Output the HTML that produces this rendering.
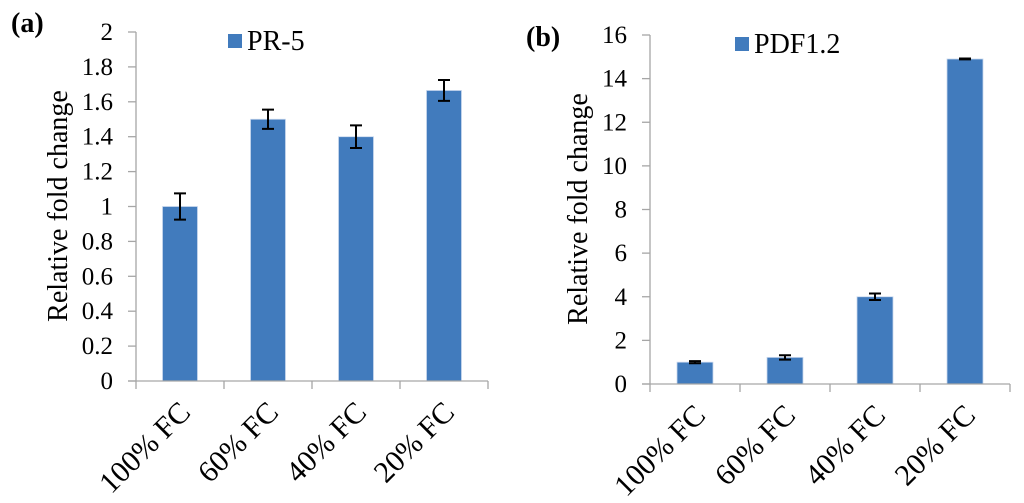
<!DOCTYPE html>
<html><head><meta charset="utf-8"><style>
html,body{margin:0;padding:0;background:#fff;width:1024px;height:503px;overflow:hidden}
svg{display:block;font-family:"Liberation Serif",serif}
</style></head><body>
<svg id="svg" width="1024" height="503" viewBox="0 0 1024 503"></svg>
<script>
const categories = ["100% FC","60% FC","40% FC","20% FC"];
const prValues = [1.0, 1.5, 1.4, 1.665];
const prErrors = [0.075, 0.055, 0.065, 0.06];
const prTicks = [0,0.2,0.4,0.6,0.8,1,1.2,1.4,1.6,1.8,2];
const pdfValues = [1.0, 1.22, 4.0, 14.9];
const pdfErrors = [0.05, 0.1, 0.15, 0.02];
const pdfTicks = [0,2,4,6,8,10,12,14,16];

const NS="http://www.w3.org/2000/svg";
const svg=document.getElementById('svg');
function mk(tag,attrs,parent,text){const e=document.createElementNS(NS,tag);for(const k in attrs)e.setAttribute(k,attrs[k]);if(text!==undefined)e.textContent=text;(parent||svg).appendChild(e);return e;}

function chart(cfg){
  const g=mk('g',{});
  
  
  const ymax=cfg.ticks[cfg.ticks.length-1];
  const y=v=>cfg.y0-(v/ymax)*(cfg.y0-cfg.y1);
  const step=(cfg.x1-cfg.x0)/categories.length;
  const xc=i=>cfg.x0+step*(i+0.5);
  const ya=mk('line',{x1:cfg.x0,y1:cfg.y1,x2:cfg.x0,y2:cfg.y0,stroke:'#a6a6a6','stroke-width':1.3},g);
  
  
  cfg.ticks.forEach(t=>{
    mk('line',{x1:cfg.x0-8,y1:y(t),x2:cfg.x0,y2:y(t),stroke:'#a6a6a6','stroke-width':1.3},g);
    const tl=mk('text',{x:cfg.x0-23,y:y(t)+8,'text-anchor':'end','font-size':25,fill:'#000'},g,String(t));
    
    
  });
  cfg.values.forEach((v,i)=>{
    const b=mk('rect',{x:xc(i)-cfg.bw/2,y:y(v),width:cfg.bw,height:cfg.y0-y(v),fill:'#417bbd',stroke:'#c9d8ee','stroke-width':0.8},g);
    
    
    const e=cfg.errors[i];
    const eb=mk('path',{d:`M${xc(i)} ${y(v+e)}V${y(v-e)}M${xc(i)-6} ${y(v+e)}H${xc(i)+6}M${xc(i)-6} ${y(v-e)}H${xc(i)+6}`,stroke:'#000','stroke-width':2,fill:'none'},g);
    
    
  });
  const xa=mk('line',{x1:cfg.x0-8,y1:cfg.y0,x2:cfg.x1,y2:cfg.y0,stroke:'#a6a6a6','stroke-width':1.3},g);
  
  
  for(let i=0;i<=categories.length;i++){
    const x=cfg.x0+step*i;
    mk('line',{x1:x,y1:cfg.y0,x2:x,y2:cfg.y0+8,stroke:'#a6a6a6','stroke-width':1.3},g);
  }
  categories.forEach((c,i)=>{
    const ax=xc(i)+12, ay=cfg.y0+33;
    const t=mk('text',{x:ax,y:ay,'text-anchor':'end','font-size':30,transform:`rotate(-45 ${ax} ${ay})`},g,c);
    
    
  });
  const yt=mk('text',{x:cfg.tx,y:cfg.ty,'text-anchor':'middle','font-size':28,transform:`rotate(-90 ${cfg.tx} ${cfg.ty})`},g,'Relative fold change');
  
  
  const lg=mk('g',{},g);
  
  
  mk('rect',{x:cfg.lx,y:cfg.ly,width:14,height:14,fill:'#417bbd'},lg);
  mk('text',{x:cfg.lx+19,y:cfg.ly+16,'font-size':28},lg,cfg.legend);
  const pl=mk('text',{x:cfg.px,y:cfg.py,'font-size':28,'font-weight':'bold'},g,cfg.panel);
  
  
}
chart({name:'chart-pr5',values:prValues,errors:prErrors,ticks:prTicks,x0:136,x1:488,y0:381,y1:32,bw:35,tx:67,ty:206,lx:228,ly:34,legend:'PR-5',panel:'(a)',px:11,py:32});
chart({name:'chart-pdf12',values:pdfValues,errors:pdfErrors,ticks:pdfTicks,x0:650,x1:1010,y0:384,y1:35,bw:36,tx:587,ty:209,lx:735,ly:37,legend:'PDF1.2',panel:'(b)',px:526,py:46});
</script>
</body></html>
